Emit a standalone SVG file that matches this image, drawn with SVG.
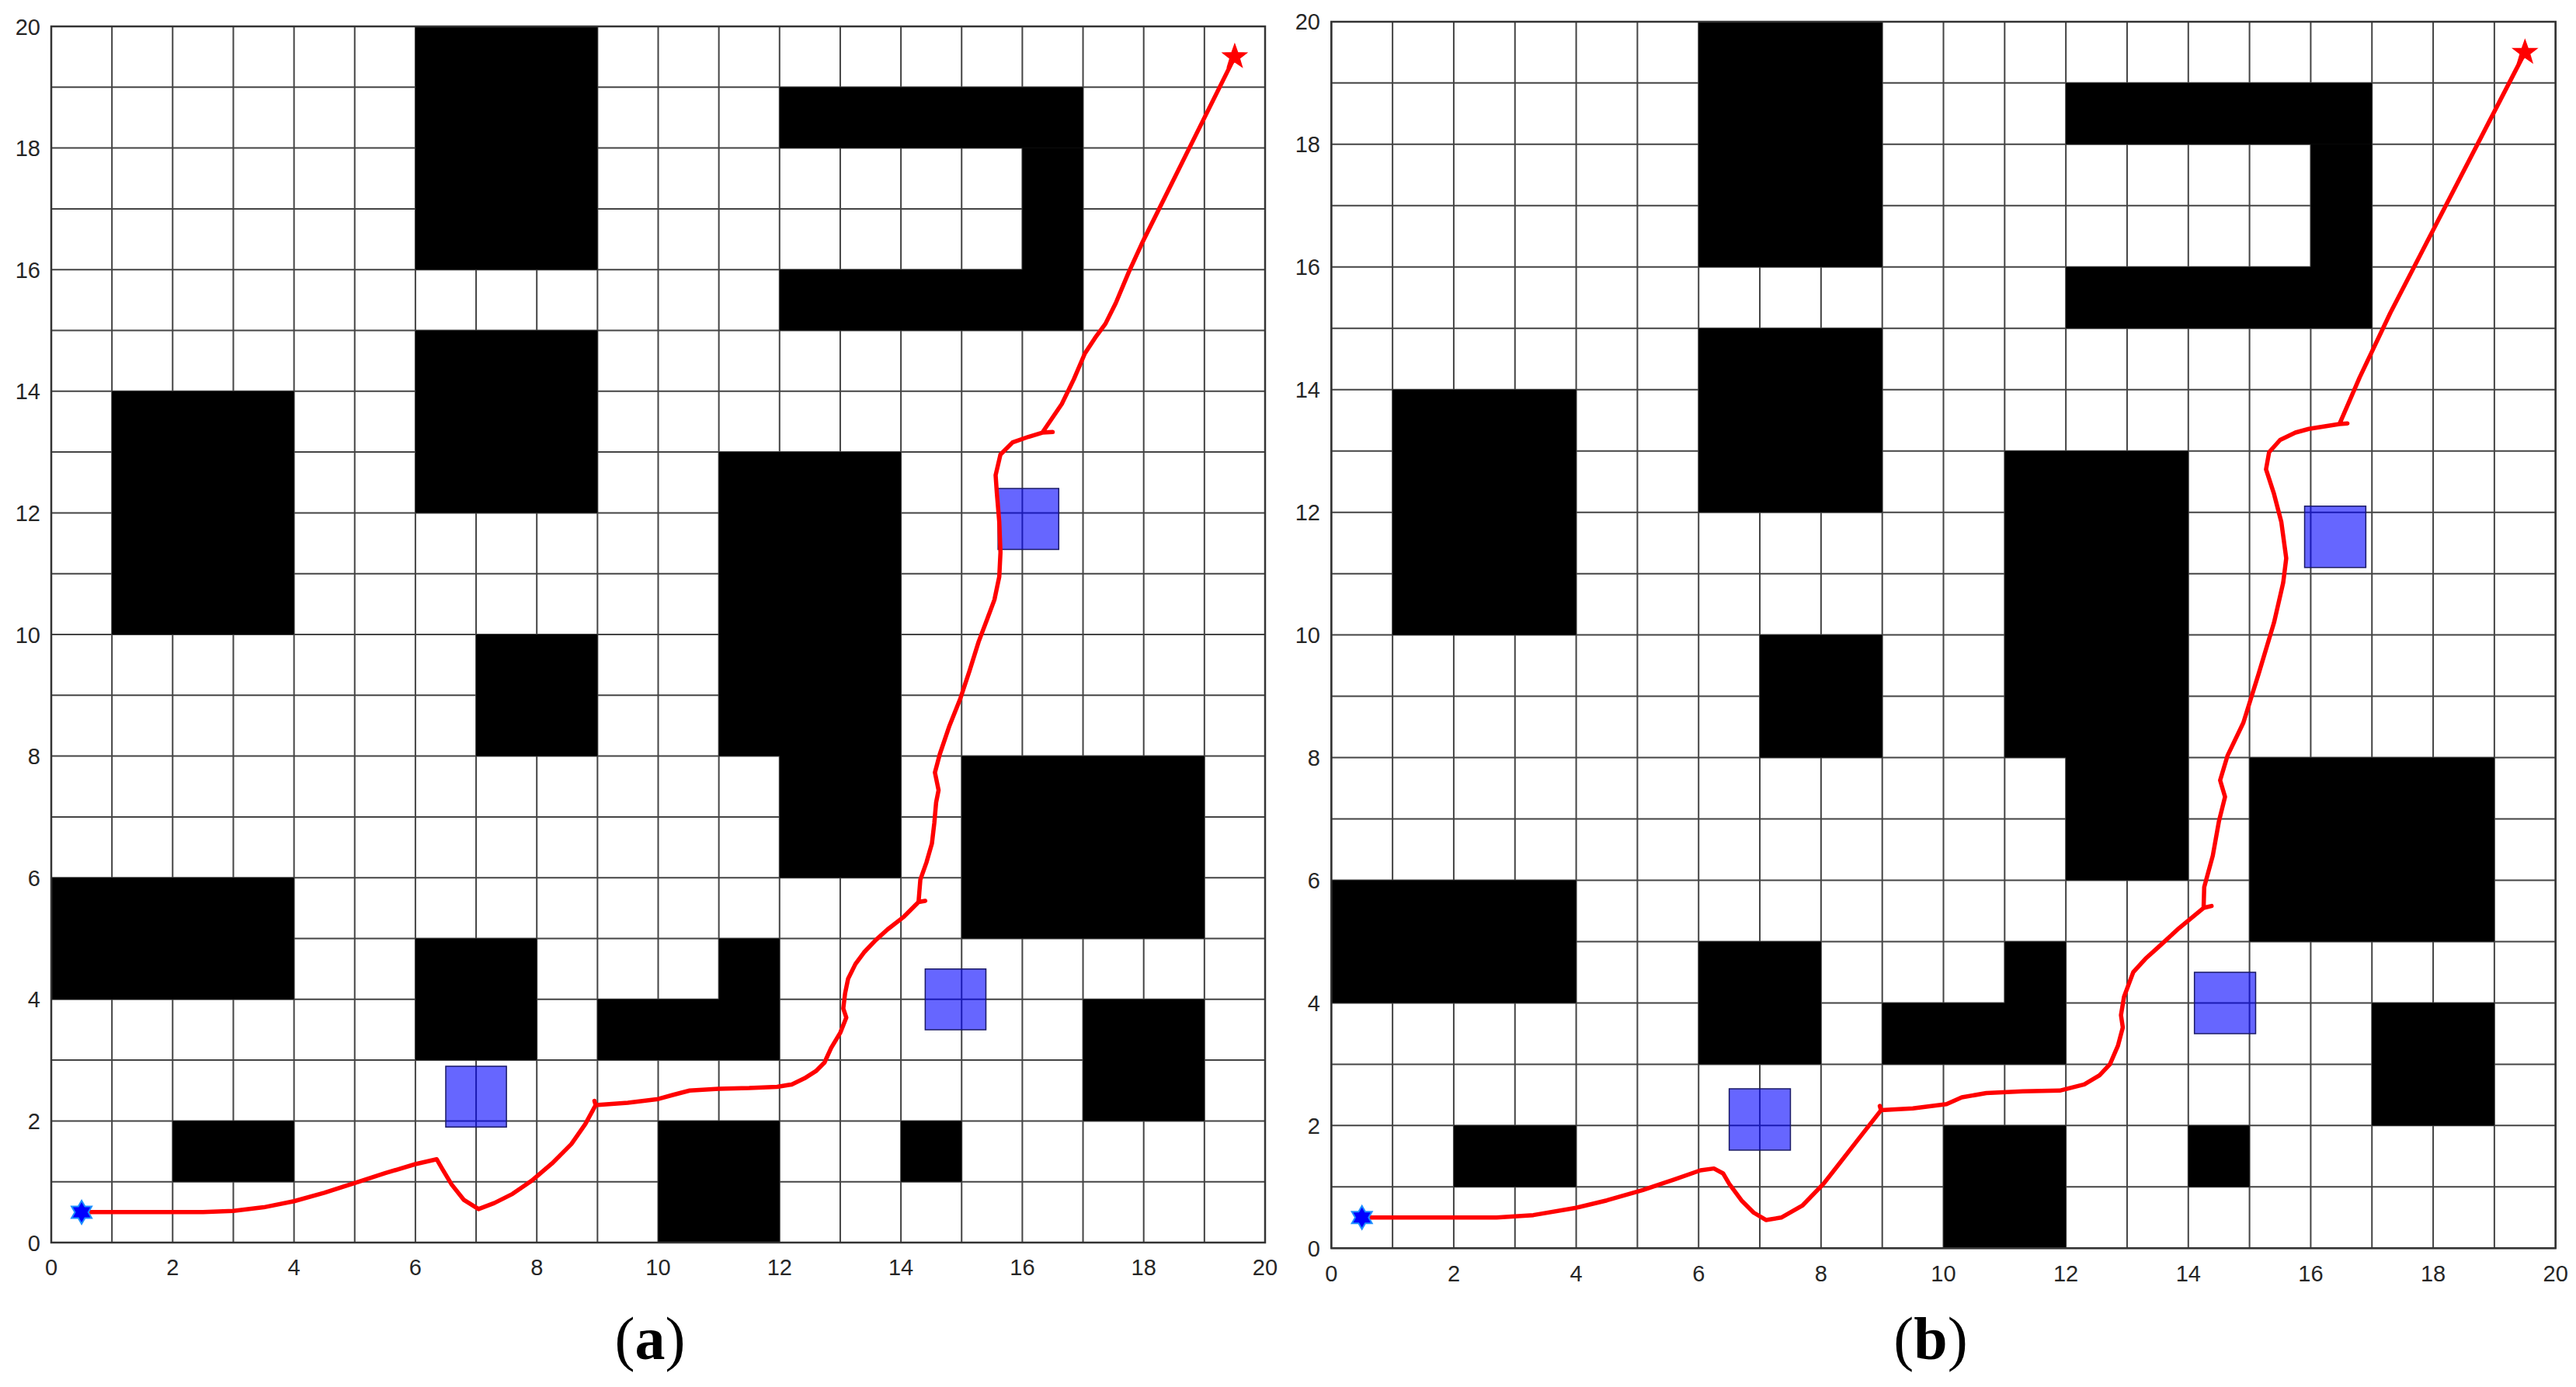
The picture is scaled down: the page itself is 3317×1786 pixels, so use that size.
<svg xmlns="http://www.w3.org/2000/svg" width="3317" height="1786" viewBox="0 0 3317 1786">
<style>
.grid{fill:none;stroke:#444444;stroke-width:2;vector-effect:non-scaling-stroke}
.box{fill:none;stroke:#333333;stroke-width:2.5;vector-effect:non-scaling-stroke}
.obs{fill:#000}
.blue{fill:#0000ff;fill-opacity:0.6;stroke:#1a1a66;stroke-width:1.5;vector-effect:non-scaling-stroke}
.route{fill:none;stroke:#ff0000;stroke-width:5.5;stroke-linejoin:round;stroke-linecap:round;vector-effect:non-scaling-stroke}
.tick{font-family:"Liberation Sans",Arial,sans-serif;font-size:29px;fill:#262626}
.ty{text-anchor:end}
.tx{text-anchor:middle}
.cap{font-family:"Liberation Serif","Times New Roman",serif;font-size:78px;fill:#000;text-anchor:middle}
</style>
<defs>
<path id="gridlines" class="grid" d="M0,0V20M1,0V20M2,0V20M3,0V20M4,0V20M5,0V20M6,0V20M7,0V20M8,0V20M9,0V20M10,0V20M11,0V20M12,0V20M13,0V20M14,0V20M15,0V20M16,0V20M17,0V20M18,0V20M19,0V20M20,0V20M0,0H20M0,1H20M0,2H20M0,3H20M0,4H20M0,5H20M0,6H20M0,7H20M0,8H20M0,9H20M0,10H20M0,11H20M0,12H20M0,13H20M0,14H20M0,15H20M0,16H20M0,17H20M0,18H20M0,19H20M0,20H20"/>
<g id="obstacles" class="obs">
<rect x="6" y="16" width="3" height="4"/>
<rect x="6" y="12" width="3" height="3"/>
<rect x="1" y="10" width="3" height="4"/>
<path d="M12,18H17V15H12V16H16V18H12Z"/>
<rect x="12" y="18" width="5" height="1"/>
<rect x="7" y="8" width="2" height="2"/>
<path d="M11,8V13H14V6H12V8Z"/>
<rect x="15" y="5" width="4" height="3"/>
<rect x="0" y="4" width="4" height="2"/>
<rect x="6" y="3" width="2" height="2"/>
<path d="M9,3V4H11V5H12V3Z"/>
<rect x="17" y="2" width="2" height="2"/>
<rect x="2" y="1" width="2" height="1"/>
<rect x="10" y="0" width="2" height="2"/>
<rect x="14" y="1" width="1" height="1"/>
</g>
<polygon id="hexstar" points="0,-15 4.33,-7.5 12.99,-7.5 8.66,0 12.99,7.5 4.33,7.5 0,15 -4.33,7.5 -12.99,7.5 -8.66,0 -12.99,-7.5 -4.33,-7.5" fill="#0000ff" stroke="#1e90ff" stroke-width="2"/>
<polygon id="pentstar" points="0,-16 3.82,-5.26 15.22,-4.94 6.18,2.01 9.4,12.94 0,6.5 -9.4,12.94 -6.18,2.01 -15.22,-4.94 -3.82,-5.26" fill="#ff0000" stroke="#ff0000" stroke-width="1.5"/>
</defs>

<rect x="0" y="0" width="3317" height="1786" fill="#ffffff"/>

<g id="plot-a">
<g id="map-a" transform="matrix(78.15 0 0 -78.3 66 1600)">
<use href="#gridlines"/>
<use href="#obstacles"/>
<g id="dynamic-obstacles-a">
<rect class="blue" x="6.5" y="1.9" width="1" height="1"/>
<rect class="blue" x="14.4" y="3.5" width="1" height="1"/>
<rect class="blue" x="15.6" y="11.4" width="1" height="1"/>
</g>
<rect class="box" x="0" y="0" width="20" height="20"/>
<g id="path-a">
<path class="route" d="M0.5,0.5 L1.5,0.5 L2.5,0.5 L3.0,0.52 L3.5,0.58 L4.0,0.68 L4.5,0.82 L5.0,0.98 L5.5,1.14 L6.0,1.29 L6.35,1.37 L6.45,1.2 L6.6,0.95 L6.8,0.7 L7.04,0.55 L7.3,0.65 L7.6,0.8 L7.92,1.02 L8.25,1.3 L8.57,1.62 L8.8,1.95 L8.97,2.26 L8.95,2.33 M8.97,2.26 L9.5,2.3 L10.0,2.36 L10.25,2.43 L10.52,2.5 L11.0,2.53 L11.5,2.54 L11.96,2.56 L12.2,2.6 L12.41,2.7 L12.6,2.82 L12.74,2.96 L12.85,3.2 L13.0,3.45 L13.1,3.7 L13.05,3.85 L13.08,4.1 L13.13,4.34 L13.25,4.58 L13.39,4.77 L13.58,4.97 L13.78,5.15 L14.05,5.36 L14.29,5.6 L14.4,5.62 M14.29,5.6 L14.32,5.97 L14.42,6.25 L14.51,6.56 L14.55,6.9 L14.58,7.24 L14.62,7.44 L14.56,7.73 L14.64,8.03 L14.8,8.5 L14.98,8.95 L15.13,9.4 L15.28,9.88 L15.42,10.25 L15.54,10.57 L15.62,10.95 L15.64,11.35 L15.62,11.85 L15.58,12.33 L15.56,12.62 L15.64,12.96 L15.84,13.16 L16.1,13.25 L16.33,13.32 L16.5,13.33 M16.33,13.32 L16.65,13.79 L16.85,14.2 L17.03,14.62 L17.2,14.88 L17.37,15.11 L17.54,15.45 L17.75,15.95 L17.97,16.43 L19.5,19.5"/>
</g>
</g>
<use href="#hexstar" x="105.1" y="1560.9"/>
<use href="#pentstar" x="1589.9" y="73.1"/>
<g id="yticks-a" class="tick ty">
<text x="52" y="1610.5">0</text><text x="52" y="1453.9">2</text><text x="52" y="1297.3">4</text><text x="52" y="1140.7">6</text><text x="52" y="984.1">8</text><text x="52" y="827.5">10</text><text x="52" y="670.9">12</text><text x="52" y="514.3">14</text><text x="52" y="357.7">16</text><text x="52" y="201.1">18</text><text x="52" y="44.5">20</text>
</g>
<g id="xticks-a" class="tick tx">
<text x="66" y="1642">0</text><text x="222.3" y="1642">2</text><text x="378.6" y="1642">4</text><text x="534.9" y="1642">6</text><text x="691.2" y="1642">8</text><text x="847.5" y="1642">10</text><text x="1003.8" y="1642">12</text><text x="1160.1" y="1642">14</text><text x="1316.4" y="1642">16</text><text x="1472.7" y="1642">18</text><text x="1629" y="1642">20</text>
</g>
<text id="caption-a" class="cap" x="837" y="1750">(<tspan font-weight="bold">a</tspan>)</text>
</g>

<g id="plot-b">
<g id="map-b" transform="matrix(78.82 0 0 -78.97 1714.3 1607.3)">
<use href="#gridlines"/>
<use href="#obstacles"/>
<g id="dynamic-obstacles-b">
<rect class="blue" x="6.5" y="1.6" width="1" height="1"/>
<rect class="blue" x="14.1" y="3.5" width="1" height="1"/>
<rect class="blue" x="15.9" y="11.1" width="1" height="1"/>
</g>
<rect class="box" x="0" y="0" width="20" height="20"/>
<g id="path-b">
<path class="route" d="M0.5,0.5 L1.5,0.5 L2.7,0.5 L3.3,0.54 L4.0,0.66 L4.5,0.78 L5.09,0.95 L5.6,1.12 L6.03,1.27 L6.25,1.3 L6.4,1.22 L6.5,1.05 L6.7,0.78 L6.9,0.58 L7.1,0.46 L7.35,0.5 L7.7,0.7 L8.04,1.05 L8.3,1.38 L8.58,1.74 L8.98,2.25 L8.96,2.32 M8.98,2.25 L9.5,2.28 L10.05,2.35 L10.3,2.46 L10.7,2.53 L11.3,2.56 L11.9,2.57 L12.3,2.67 L12.55,2.82 L12.72,3.0 L12.85,3.3 L12.93,3.6 L12.9,3.8 L12.95,4.1 L13.1,4.5 L13.3,4.72 L13.5,4.9 L13.85,5.22 L14.25,5.55 L14.38,5.58 M14.25,5.55 L14.26,5.89 L14.4,6.4 L14.5,6.96 L14.6,7.36 L14.52,7.63 L14.64,8.03 L14.9,8.57 L15.15,9.37 L15.4,10.2 L15.55,10.85 L15.6,11.25 L15.52,11.84 L15.4,12.3 L15.27,12.7 L15.32,12.98 L15.5,13.18 L15.75,13.3 L15.97,13.36 L16.47,13.44 L16.6,13.45 M16.47,13.44 L16.8,14.2 L17.3,15.25 L19.5,19.5"/>
</g>
</g>
<use href="#hexstar" x="1753.7" y="1567.8"/>
<use href="#pentstar" x="3251.3" y="67.4"/>
<g id="yticks-b" class="tick ty">
<text x="1700" y="1617.8">0</text><text x="1700" y="1459.9">2</text><text x="1700" y="1301.9">4</text><text x="1700" y="1144">6</text><text x="1700" y="986">8</text><text x="1700" y="828.1">10</text><text x="1700" y="670.2">12</text><text x="1700" y="512.2">14</text><text x="1700" y="354.3">16</text><text x="1700" y="196.3">18</text><text x="1700" y="38.4">20</text>
</g>
<g id="xticks-b" class="tick tx">
<text x="1714.3" y="1650">0</text><text x="1872" y="1650">2</text><text x="2029.6" y="1650">4</text><text x="2187.2" y="1650">6</text><text x="2344.9" y="1650">8</text><text x="2502.5" y="1650">10</text><text x="2660.1" y="1650">12</text><text x="2817.8" y="1650">14</text><text x="2975.4" y="1650">16</text><text x="3133.1" y="1650">18</text><text x="3290.7" y="1650">20</text>
</g>
<text id="caption-b" class="cap" x="2486" y="1750">(<tspan font-weight="bold">b</tspan>)</text>
</g>
</svg>
